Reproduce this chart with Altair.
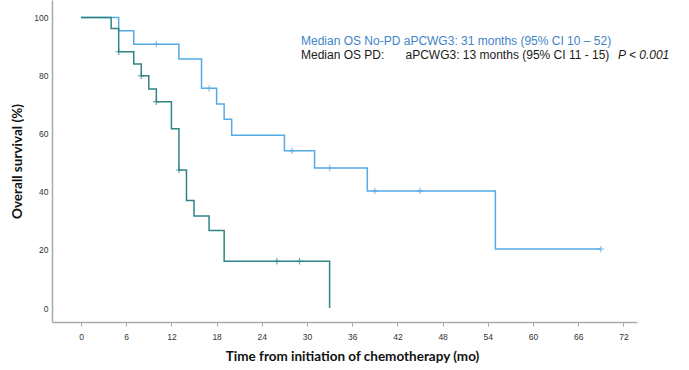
import altair as alt
import pandas as pd

# Kaplan-Meier step data
nopd_time = [0, 5, 7, 13, 16, 18, 19, 20, 27, 31, 38, 55, 69]
nopd_surv = [100, 95.4, 90.8, 85.7, 75.6, 70.2, 65.0, 59.5, 54.1, 48.2, 40.3, 20.3, 20.3]
nopd_cens_time = [10, 17, 28, 33, 39, 45, 69]
nopd_cens_surv = [90.8, 75.6, 54.1, 48.2, 40.3, 40.3, 20.3]

pd_time = [0, 4, 5, 7, 8, 9, 10, 12, 13, 14, 15, 17, 19, 33]
pd_surv = [100, 96.2, 88.2, 84.0, 79.9, 75.4, 71.0, 61.7, 47.5, 37.0, 31.7, 26.7, 16.1, 0]
pd_cens_time = [5, 8, 10, 13, 26, 29]
pd_cens_surv = [88.2, 79.9, 71.0, 47.5, 16.1, 16.1]

x_ticks = [0, 6, 12, 18, 24, 30, 36, 42, 48, 54, 60, 66, 72]
y_ticks = [0, 20, 40, 60, 80, 100]

line1 = "Median OS No-PD aPCWG3: 31 months (95% CI 10 \u2013 52)"
line2a = "Median OS PD:"
line2b = "aPCWG3: 13 months (95% CI 11 - 15)"
line2c = "P < 0.001"

BLUE = "#55aae8"
GREEN = "#2f8484"

df_nopd = pd.DataFrame({"t": nopd_time, "s": nopd_surv})
df_pd = pd.DataFrame({"t": pd_time, "s": pd_surv})
dc_nopd = pd.DataFrame({"t": nopd_cens_time, "s": nopd_cens_surv})
dc_pd = pd.DataFrame({"t": pd_cens_time, "s": pd_cens_surv})

xscale = alt.Scale(domain=[-3.85, 73.8], nice=False, zero=False)
yscale = alt.Scale(domain=[-4.8, 106], nice=False, zero=False)

xaxis = alt.Axis(
    values=x_ticks, title="Time from initiation of chemotherapy (mo)",
    grid=False, domainColor="#aaaaaa", domainWidth=1.5, tickColor="#aaaaaa",
    tickSize=4, labelFontSize=8.5, labelColor="#333333", labelPadding=6,
    labelFont="Liberation Sans",
    titleFont="Lato", titleFontSize=13.5, titleFontWeight="bold", titleColor="#111111",
    titleX=300, titleY=34, titleBaseline="middle", titleAlign="center",
)
yaxis = alt.Axis(
    values=y_ticks, title="Overall survival (%)",
    grid=False, domainColor="#aaaaaa", domainWidth=1.5, ticks=False,
    labelFontSize=8.5, labelColor="#333333", labelPadding=4,
    labelFont="Liberation Sans",
    titleFont="Lato", titleFontSize=13.5, titleFontWeight="bold", titleColor="#111111",
    titleX=-35, titleY=161, titleBaseline="middle", titleAlign="center", titleAngle=270,
)

censor_shape = "M-1,0L1,0M0,-1L0,1"

def km_line(df, color):
    return alt.Chart(df).mark_line(interpolate="step-after", color=color, strokeWidth=1.5).encode(
        x=alt.X("t:Q", scale=xscale, axis=xaxis),
        y=alt.Y("s:Q", scale=yscale, axis=yaxis),
    )

def km_cens(df, color):
    return alt.Chart(df).mark_point(shape=censor_shape, size=40, color=color, strokeWidth=1.2, filled=False).encode(
        x=alt.X("t:Q", scale=xscale),
        y=alt.Y("s:Q", scale=yscale),
    )

one = pd.DataFrame({"a": [1]})
font = "Liberation Sans"
t1 = alt.Chart(one).mark_text(text=line1, align="left", baseline="middle", font=font, fontSize=12, color="#3f84c8").encode(
    x=alt.value(249), y=alt.value(40.5))
t2 = alt.Chart(one).mark_text(text=line2a, align="left", baseline="middle", font=font, fontSize=12, color="#1a1a1a").encode(
    x=alt.value(249), y=alt.value(54.5))
t3 = alt.Chart(one).mark_text(text=line2b, align="left", baseline="middle", font=font, fontSize=12, color="#1a1a1a").encode(
    x=alt.value(353.5), y=alt.value(54.5))
t4 = alt.Chart(one).mark_text(text=line2c, align="left", baseline="middle", font=font, fontSize=12, fontStyle="italic", color="#1a1a1a").encode(
    x=alt.value(566), y=alt.value(54.5))

chart = alt.layer(
    km_line(df_nopd, BLUE), km_cens(dc_nopd, BLUE),
    km_line(df_pd, GREEN), km_cens(dc_pd, GREEN),
    t1, t2, t3, t4,
).properties(
    width=585, height=322,
    autosize=alt.AutoSizeParams(type="none"),
    padding={"left": 52, "top": 0, "right": 52, "bottom": 48},
    background="white",
).configure_view(stroke=None)

chart.save("out.html", embed_options={"renderer": "svg", "actions": False})
